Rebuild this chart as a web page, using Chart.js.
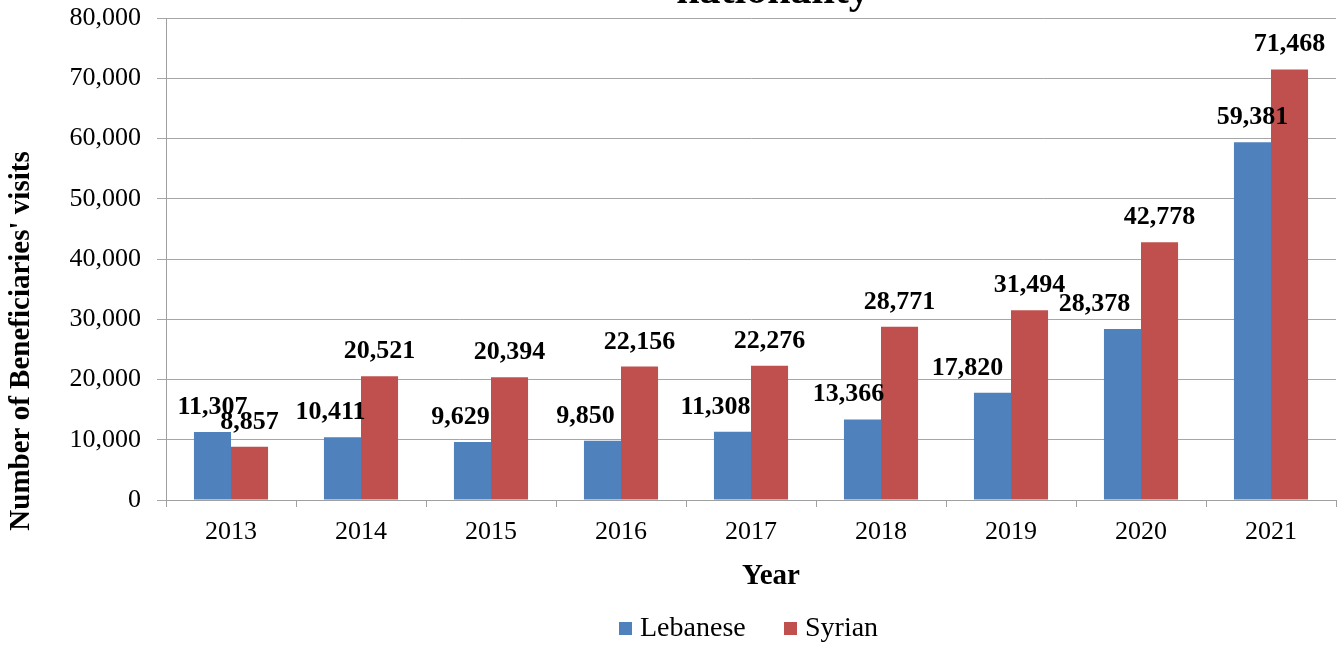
<!DOCTYPE html>
<html>
<head>
<meta charset="utf-8">
<script src="https://cdn.jsdelivr.net/npm/chart.js@4"></script>
<style>
  html, body { margin: 0; padding: 0; background: #fff; }
  #wrap { width: 1341px; height: 645px; position: relative; }
</style>
</head>
<body>
<div id="wrap"><canvas id="visitsChart"></canvas></div>
<script>
const years = ['2013', '2014', '2015', '2016', '2017', '2018', '2019', '2020', '2021'];
const lebanese = [11307, 10411, 9629, 9850, 11308, 13366, 17820, 28378, 59381];
const syrian = [8857, 20521, 20394, 22156, 22276, 28771, 31494, 42778, 71468];
const seriesNames = ['Lebanese', 'Syrian'];
const seriesColors = ['#4F81BD', '#C0504D'];
const yMax = 80000;
const yStep = 10000;

const serif = '"Liberation Serif", "Times New Roman", serif';
const fmt = v => Number(v).toLocaleString('en-US');

// the Lebanese labels were nudged left in the original to dodge the red bars
const labelNudge = [[0, -12, -12, -17, -17, -14, -25, -28, 0], [0, 0, 0, 0, 0, 0, 0, 0, 0]];

Chart.defaults.font.family = serif;
Chart.defaults.color = '#000';

// value labels above each bar
const barLabels = {
    id: 'barLabels',
    afterDatasetsDraw(chart) {
        const ctx = chart.ctx;
        ctx.save();
        ctx.font = 'bold 26px ' + serif;
        ctx.fillStyle = '#000';
        ctx.textAlign = 'center';
        ctx.textBaseline = 'alphabetic';
        chart.data.datasets.forEach((ds, i) => {
            chart.getDatasetMeta(i).data.forEach((bar, j) => {
                ctx.fillText(fmt(ds.data[j]), bar.x + labelNudge[i][j], bar.y - 18);
            });
        });
        ctx.restore();
    }
};

// clipped title, axis titles and legend
const extras = {
    id: 'extras',
    afterDraw(chart) {
        const ctx = chart.ctx;
        const area = chart.chartArea;
        ctx.save();
        ctx.fillStyle = '#000';

        ctx.font = 'bold 42px ' + serif;
        ctx.textAlign = 'center';
        ctx.textBaseline = 'alphabetic';
        ctx.fillText('nationality', 773, 3);

        ctx.font = 'bold 29px ' + serif;
        ctx.textBaseline = 'middle';
        ctx.fillText('Year', (area.left + area.right) / 2 + 20, 577);

        ctx.save();
        ctx.translate(22, 341);
        ctx.rotate(-Math.PI / 2);
        ctx.fillText("Number of Beneficiaries' visits", 0, 0);
        ctx.restore();

        ctx.font = '28px ' + serif;
        ctx.textAlign = 'left';
        const legendX = [619, 784];
        seriesNames.forEach((name, i) => {
            ctx.fillStyle = seriesColors[i];
            ctx.fillRect(legendX[i], 622, 13, 13);
            ctx.fillStyle = '#000';
            ctx.fillText(name, legendX[i] + 21, 629);
        });
        ctx.restore();
    }
};

new Chart(document.getElementById('visitsChart'), {
    type: 'bar',
    data: {
        labels: years,
        datasets: [
            { label: seriesNames[0], data: lebanese, backgroundColor: seriesColors[0] },
            { label: seriesNames[1], data: syrian, backgroundColor: seriesColors[1] }
        ]
    },
    options: {
        responsive: true,
        maintainAspectRatio: false,
        animation: false,
        layout: { padding: { top: 18, right: 5, left: 0, bottom: 0 } },
        datasets: { bar: { categoryPercentage: 0.57, barPercentage: 1 } },
        plugins: {
            legend: { display: false },
            tooltip: { enabled: false }
        },
        scales: {
            x: {
                afterFit: s => { s.height = 145; },
                grid: { offset: true, drawOnChartArea: false, drawTicks: true, tickLength: 7, color: '#a0a0a0' },
                border: { color: '#a0a0a0' },
                ticks: { font: { size: 26 }, padding: 10, color: '#000' }
            },
            y: {
                min: 0,
                max: yMax,
                afterFit: s => { s.width = 166; s.paddingTop = 0; s.paddingBottom = 0; },
                grid: { color: '#a6a6a6', tickLength: 9 },
                border: { color: '#a0a0a0' },
                ticks: { stepSize: yStep, font: { size: 26 }, padding: 16, color: '#000', callback: v => fmt(v) }
            }
        }
    },
    plugins: [barLabels, extras]
});
</script>
</body>
</html>
